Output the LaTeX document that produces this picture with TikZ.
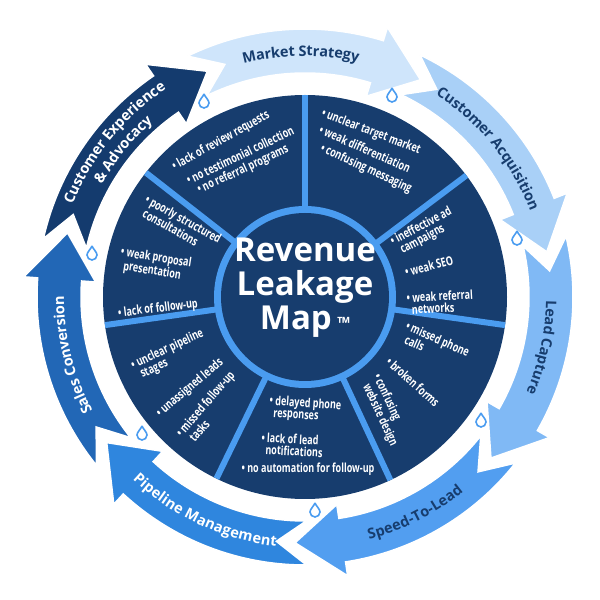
\documentclass[tikz,border=0pt]{standalone}
\usepackage{fontspec}
\setmainfont{Open Sans}
\newfontfamily\condfont[FakeStretch=0.72]{Open Sans}
\usetikzlibrary{decorations.text,calc}

\definecolor{navy}{HTML}{173D6E}
\definecolor{ringblue}{HTML}{4A9CF0}
\definecolor{cMarket}{HTML}{CFE5FB}
\definecolor{cAcq}{HTML}{A9D0F7}
\definecolor{cLead}{HTML}{80B9F5}
\definecolor{cSpeed}{HTML}{529EF0}
\definecolor{cPipe}{HTML}{2F86DE}
\definecolor{cSales}{HTML}{2267B6}
\definecolor{cCust}{HTML}{143B6E}

\tikzset{
  leak/.style={text=white,font=\condfont\bfseries\fontsize{12.5}{12}\selectfont,align=left,inner sep=0pt},
  divider/.style={ringblue,line width=6pt},
  drop/.style={draw=ringblue,line width=1.6pt,fill=white},
  arclabel/.style={decorate,decoration={text along path,text align=center,raise=-5pt,text={#1}}}
}

% ring arrow: tail angle, colour
\newcommand{\ringarrow}[2]{%
  \fill[#2,draw=white,line width=1.5pt]
    (#1:268) arc[start angle=#1,end angle=#1-43,radius=268]
    -- (#1-43:282) -- (#1-54:246) -- (#1-43:210) -- (#1-43:224)
    arc[start angle=#1-43,end angle=#1,radius=224]
    -- (#1-7:246) -- cycle;}
\newcommand{\waterdrop}[2]{%
  \draw[drop] (#1,#2) ++(0,9) .. controls +(-1,-3) and +(0,3) .. ++(-5,-9)
    arc[start angle=180,end angle=360,radius=5] .. controls +(0,3) and +(1,-3) .. ++(-5,9);}

\begin{document}
\begin{tikzpicture}[x=1pt,y=1pt]
\useasboundingbox (0,0) rectangle (600,600);
\coordinate (C) at (305,303);

\begin{scope}[shift={(C)}]
  % outer ring of arrows
  \ringarrow{116}{cMarket}
  \ringarrow{64.6}{cAcq}
  \ringarrow{13.1}{cLead}
  \ringarrow{-38.3}{cSpeed}
  \ringarrow{-89.7}{cPipe}
  \ringarrow{-141.1}{cSales}
  \ringarrow{167.4}{cCust}

  \path[arclabel={|\bfseries\fontsize{14.5}{16}\selectfont\color{navy}|Market Strategy}]
    (112:246) arc[start angle=112,end angle=70,radius=246];
  \path[arclabel={|\bfseries\fontsize{14.5}{16}\selectfont\color{navy}|Customer Acquisition}]
    (62:246) arc[start angle=62,end angle=16,radius=246];
  \path[arclabel={|\bfseries\fontsize{14.5}{16}\selectfont\color{navy}|Lead Capture}]
    (7:246) arc[start angle=7,end angle=-31,radius=246];
  \path[arclabel={|\bfseries\fontsize{14.5}{16}\selectfont\color{navy}|Speed-To-Lead}]
    (-81:246) arc[start angle=-81,end angle=-45,radius=246];
  \path[arclabel={|\bfseries\fontsize{14.5}{16}\selectfont\color{white}|Pipeline Management}]
    (-137:246) arc[start angle=-137,end angle=-93,radius=246];
  \path[arclabel={|\bfseries\fontsize{14.5}{16}\selectfont\color{white}|Sales Conversion}]
    (-147:246) arc[start angle=-147,end angle=-185,radius=246];
  \path[arclabel={|\bfseries\fontsize{14.5}{16}\selectfont\color{white}|Customer Experience}]
    (162:255) arc[start angle=162,end angle=120,radius=255];
  \path[arclabel={|\bfseries\fontsize{14.5}{16}\selectfont\color{white}|{\&} Advocacy}]
    (160:237) arc[start angle=160,end angle=122,radius=237];

  % leakage disc
  \fill[navy] (0,0) circle[radius=202];
  \foreach \a in {90,37,-8,-65,-116,188,142}
    \draw[divider] (\a:85) -- (\a:202);
  \fill[ringblue] (0,0) circle[radius=91];
  \fill[navy] (0,0) circle[radius=84];
\end{scope}

\node[text=white,font=\bfseries\fontsize{33}{34}\selectfont,align=center] (title) at (305,312)
  {Revenue\\Leakage\\Map\,{\fontsize{17}{17}\selectfont™}};

% market strategy leaks
\node[leak,rotate=29] (m1) at (221,459) {\textbullet\ lack of review requests};
\node[leak,rotate=25.5] (m2) at (240,445) {\textbullet\ no testimonial collection};
\node[leak,rotate=25] (m3) at (243,430) {\textbullet\ no referral programs};
\node[leak,rotate=-21] (s1) at (371,468) {\textbullet\ unclear target market};
\node[leak,rotate=-24] (s2) at (365,451) {\textbullet\ weak differentiation};
\node[leak,rotate=-25] (s3) at (366,431) {\textbullet\ confusing messaging};
% acquisition leaks
\node[leak,rotate=28] (a1) at (424,368) {\textbullet\ ineffective ad\\ \ \ campaigns};
\node[leak,rotate=15] (a2) at (429,334) {\textbullet\ weak SEO};
\node[leak,rotate=3] (a3) at (440,298) {\textbullet\ weak referral\\ \ \ networks};
% capture leaks
\node[leak,rotate=-24] (c1) at (435,255) {\textbullet\ missed phone\\ \ \ calls};
\node[leak,rotate=-42] (c2) at (413,218) {\textbullet\ broken forms};
\node[leak,rotate=-65] (c3) at (385,190) {\textbullet\ confusing\\ \ \ website design};
% speed leaks
\node[leak,rotate=-4] (d1) at (305,190) {\textbullet\ delayed phone\\ \ \ responses};
\node[leak,rotate=-3] (d2) at (292,155) {\textbullet\ lack of lead\\ \ \ notifications};
\node[leak,rotate=0] (d3) at (308,131) {\textbullet\ no automation for follow-up};
% pipeline leaks
\node[leak,rotate=25] (p1) at (170,245) {\textbullet\ unclear pipeline\\ \ \ stages};
\node[leak,rotate=40] (p2) at (190,212) {\textbullet\ unassigned leads};
\node[leak,rotate=49] (p3) at (210,192) {\textbullet\ missed follow-up\\ \ \ tasks};
% sales leaks
\node[leak,rotate=-29] (v1) at (180,375) {\textbullet\ poorly structured\\ \ \ consultations};
\node[leak,rotate=-9] (v2) at (155,335) {\textbullet\ weak proposal\\ \ \ presentation};
\node[leak,rotate=7] (v3) at (158,291) {\textbullet\ lack of follow-up};

% drops at the joints
\foreach \x/\y in {204/497,392/503,517/360,481/178,315/88,142/165,92/345}
  {\waterdrop{\x}{\y}}
\end{tikzpicture}
\end{document}
